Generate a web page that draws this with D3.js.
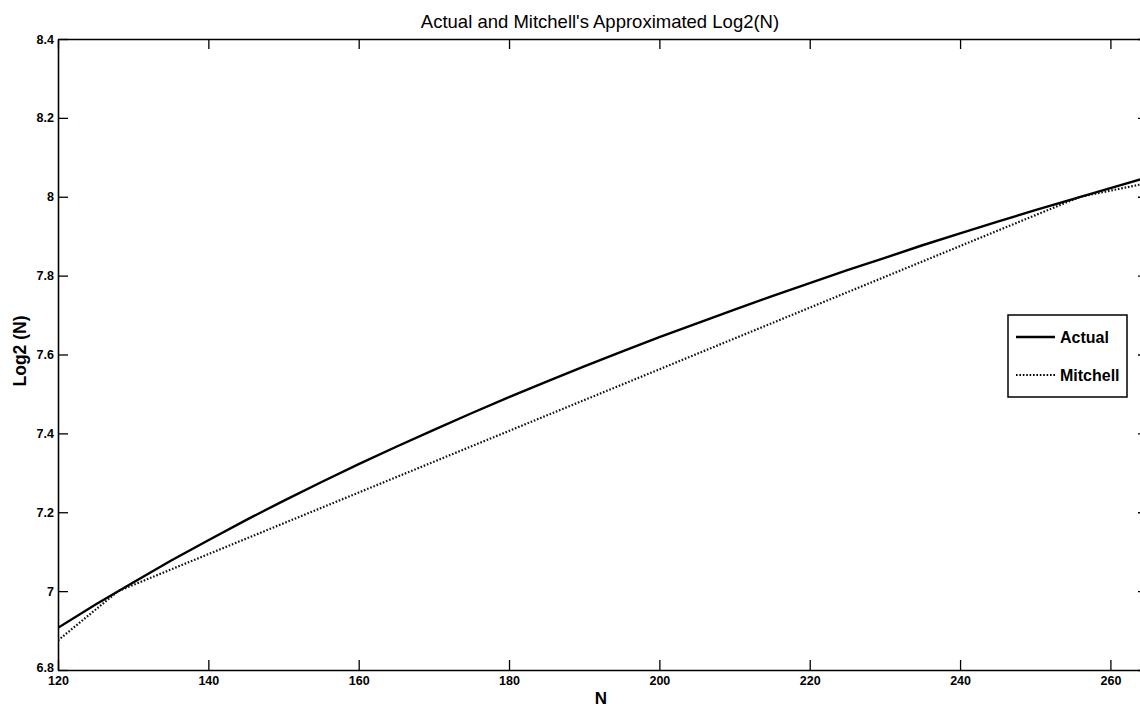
<!DOCTYPE html>
<html>
<head>
<meta charset="utf-8">
<script src="https://cdn.jsdelivr.net/npm/d3@7"></script>
<style>
  body { margin: 0; background: #fff; }
  text { font-family: "Liberation Sans", Arial, sans-serif; fill: #000; }
</style>
</head>
<body>
<svg id="chart" width="1140" height="707"></svg>
<script>
// values
var actualN = [120, 125, 130, 135, 140, 145, 150, 155, 160, 165, 170, 175, 180, 185, 190,
               195, 200, 205, 210, 215, 220, 225, 230, 235, 240, 245, 250, 255, 260, 265];
var actualLog = [6.907, 6.966, 7.022, 7.077, 7.129, 7.180, 7.229, 7.276, 7.322, 7.366,
                 7.409, 7.451, 7.492, 7.531, 7.570, 7.607, 7.644, 7.679, 7.714, 7.748,
                 7.781, 7.814, 7.845, 7.877, 7.907, 7.937, 7.966, 7.994, 8.022, 8.050];
var mitchN = [120, 128, 136, 144, 152, 160, 168, 176, 184, 192, 200, 208, 216, 224,
              232, 240, 248, 256, 264, 265];
var mitchLog = [6.875, 7.000, 7.0625, 7.125, 7.1875, 7.250, 7.3125, 7.375, 7.4375, 7.500,
                7.5625, 7.625, 7.6875, 7.750, 7.8125, 7.875, 7.9375, 8.000, 8.031, 8.035];
var xTicks = [120, 140, 160, 180, 200, 220, 240, 260];
var yTicks = [6.8, 7, 7.2, 7.4, 7.6, 7.8, 8, 8.2, 8.4];
var seriesNames = ["Actual", "Mitchell"];

var svg = d3.select("#chart");
var pLeft = 58, pRight = 1148, pTop = 39, pBottom = 670;

var x = d3.scaleLinear().domain([120, 265]).range([pLeft, pRight]);
var y = d3.scaleLinear().domain([6.8, 8.4]).range([pBottom, pTop]);

var fmt = function(d){ return String(d); };

// axes (ticks pointing inward, mirrored on top/right)
var gx = svg.append("g").attr("transform", "translate(0," + pBottom + ")")
  .call(d3.axisBottom(x).tickValues(xTicks).tickSizeInner(-10).tickSizeOuter(0).tickPadding(3).tickFormat(fmt));
var gxt = svg.append("g").attr("transform", "translate(0," + pTop + ")")
  .call(d3.axisTop(x).tickValues(xTicks).tickSizeInner(-10).tickSizeOuter(0).tickFormat(""));
var gy = svg.append("g").attr("transform", "translate(" + pLeft + ",0)")
  .call(d3.axisLeft(y).tickValues(yTicks).tickSizeInner(-10).tickSizeOuter(0).tickPadding(4).tickFormat(fmt));
var gyr = svg.append("g").attr("transform", "translate(" + pRight + ",0)")
  .call(d3.axisRight(y).tickValues(yTicks).tickSizeInner(-10).tickSizeOuter(0).tickFormat(""));

[gx, gxt, gy, gyr].forEach(function(g){
  g.select(".domain").attr("stroke", "#000").attr("stroke-width", 1.6);
  g.selectAll(".tick line").attr("stroke", "#000").attr("stroke-width", 1.3);
  g.selectAll("text").attr("font-size", 12.5).attr("font-weight", "bold")
    .style("font-family", "'Liberation Sans', Arial, sans-serif");
});
gx.selectAll(".tick text").attr("y", 6).attr("dy", "0.71em");
gy.selectAll(".tick text").attr("x", -4).attr("dy", "0.32em");
// lowest y label sits a little higher, as in the original
gy.selectAll(".tick text").filter(function(d){ return d === 6.8; }).attr("dy", "0.1em");

// lines
var line = d3.line().x(function(d){ return x(d[0]); }).y(function(d){ return y(d[1]); });
var actual = actualN.map(function(n, i){ return [n, actualLog[i]]; });
var mitch = mitchN.map(function(n, i){ return [n, mitchLog[i]]; });

svg.append("clipPath").attr("id", "clip").append("rect")
  .attr("x", pLeft).attr("y", pTop).attr("width", pRight - pLeft).attr("height", pBottom - pTop);

svg.append("path").datum(actual).attr("d", line).attr("clip-path", "url(#clip)")
  .attr("fill", "none").attr("stroke", "#000").attr("stroke-width", 2.4);
svg.append("path").datum(mitch).attr("d", line).attr("clip-path", "url(#clip)")
  .attr("fill", "none").attr("stroke", "#111").attr("stroke-width", 2.2)
  .attr("stroke-dasharray", "1.6,1.8");

// title and axis labels
svg.append("text").attr("x", 600).attr("y", 28).attr("text-anchor", "middle")
  .attr("font-size", 18.5).text("Actual and Mitchell's Approximated Log2(N)");
svg.append("text").attr("x", 601).attr("y", 704).attr("text-anchor", "middle")
  .attr("font-size", 17).attr("font-weight", "bold").text("N");
svg.append("text").attr("transform", "translate(26,351) rotate(-90)").attr("text-anchor", "middle")
  .attr("font-size", 17.5).attr("font-weight", "bold").text("Log2 (N)");

// legend
var lg = svg.append("g");
lg.append("rect").attr("x", 1008).attr("y", 315).attr("width", 119).attr("height", 82)
  .attr("fill", "#fff").attr("stroke", "#000").attr("stroke-width", 1.5);
var legendStyles = [{w: 2.4, dash: null}, {w: 2.2, dash: "1.6,1.8"}];
seriesNames.forEach(function(name, i){
  var yy = 337 + i * 38;
  var l = lg.append("line").attr("x1", 1016).attr("x2", 1055).attr("y1", yy).attr("y2", yy)
    .attr("stroke", "#000").attr("stroke-width", legendStyles[i].w);
  if (legendStyles[i].dash) l.attr("stroke-dasharray", legendStyles[i].dash);
  lg.append("text").attr("x", 1060).attr("y", yy + 6).attr("font-size", 16)
    .attr("font-weight", "bold").text(name);
});
</script>
</body>
</html>
